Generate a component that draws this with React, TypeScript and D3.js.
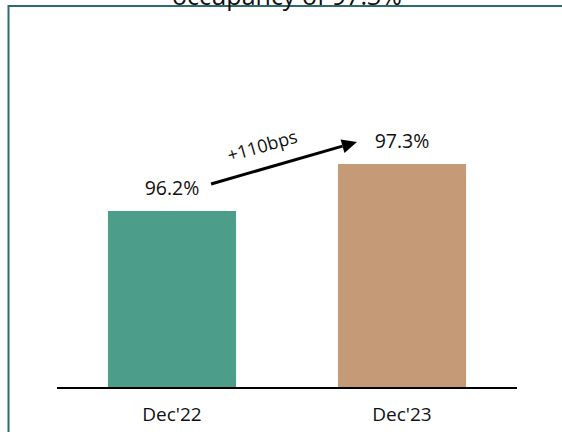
import React from "react";
import * as d3 from "d3";

const categories = ["Dec'22", "Dec'23"];
const values = [96.2, 97.3];
const valueLabels = ["96.2%", "97.3%"];
const changeLabel = "+110bps";
const titleText = "occupancy of 97.3%";
const colors = ["#4c9e8a", "#c49b76"];

const W = 562;
const H = 432;

export default function App() {
  const x = d3
    .scaleBand<string>()
    .domain(categories)
    .range([57, 517])
    .paddingInner(0.443)
    .paddingOuter(0.2215);
  const y = d3.scaleLinear().domain([92.08, 97.3]).range([387, 164]);
  const bw = x.bandwidth();
  const font = "'Open Sans', sans-serif";

  const x0 = (x(categories[0]) as number) + bw - 25;
  const y0 = y(values[0]) - 27;
  const x1 = (x(categories[1]) as number) + 19;
  const y1 = y(values[1]) - 22;
  const ang = Math.atan2(y1 - y0, x1 - x0);
  const headLen = 15;
  const headW = 7;
  const bx = x1 - headLen * Math.cos(ang);
  const by = y1 - headLen * Math.sin(ang);
  const px = -Math.sin(ang) * headW;
  const py = Math.cos(ang) * headW;
  const deg = (ang * 180) / Math.PI;

  return (
    <svg
      width={W}
      height={H}
      style={{ position: "absolute", left: 0, top: 0, background: "#fff" }}
    >
      <rect
        x={8.5}
        y={6}
        width={W + 20}
        height={H + 20}
        fill="none"
        stroke="#2f6b68"
        strokeWidth={2}
      />
      <text
        x={287}
        y={5}
        textAnchor="middle"
        fontFamily={font}
        fontSize={25}
        fill="#111"
      >
        {titleText}
      </text>
      {categories.map((c, i) => (
        <g key={c}>
          <rect
            x={x(c)}
            y={y(values[i])}
            width={bw}
            height={y(92.08) - y(values[i])}
            fill={colors[i]}
          />
          <text
            x={(x(c) as number) + bw / 2}
            y={y(values[i]) - 16}
            textAnchor="middle"
            fontFamily={font}
            fontSize={19.5}
            fill="#111"
          >
            {valueLabels[i]}
          </text>
          <text
            x={(x(c) as number) + bw / 2}
            y={421}
            textAnchor="middle"
            fontFamily={font}
            fontSize={19}
            fill="#111"
          >
            {c}
          </text>
        </g>
      ))}
      <line x1={57} x2={517} y1={388} y2={388} stroke="#000" strokeWidth={2} />
      <line x1={x0} y1={y0} x2={bx} y2={by} stroke="#000" strokeWidth={3} />
      <polygon
        points={`${x1},${y1} ${bx + px},${by + py} ${bx - px},${by - py}`}
        fill="#000"
      />
      <text
        transform={`translate(${(x0 + x1) / 2 - 20},${(y0 + y1) / 2 - 11}) rotate(${deg})`}
        textAnchor="middle"
        fontFamily={font}
        fontSize={18}
        fill="#111"
      >
        {changeLabel}
      </text>
    </svg>
  );
}
